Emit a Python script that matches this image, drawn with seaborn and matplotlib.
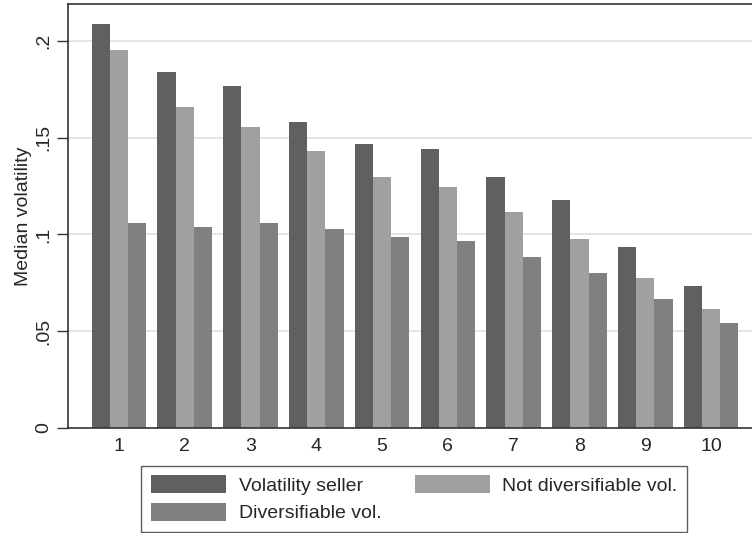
import matplotlib
matplotlib.use("Agg")
import matplotlib.pyplot as plt
import seaborn as sns
import pandas as pd
from matplotlib.patches import Patch

categories = ["1", "2", "3", "4", "5", "6", "7", "8", "9", "10"]
volatility_seller = [0.2088, 0.1839, 0.1768, 0.1582, 0.1469, 0.1443, 0.1296, 0.1176, 0.0933, 0.0733]
not_diversifiable = [0.1952, 0.1656, 0.1553, 0.1432, 0.1296, 0.1245, 0.1116, 0.0976, 0.0775, 0.0616]
diversifiable = [0.1061, 0.1037, 0.1061, 0.1028, 0.0988, 0.0964, 0.0882, 0.0801, 0.0668, 0.0544]
series_names = ["Volatility seller", "Not diversifiable vol.", "Diversifiable vol."]
y_ticks = [0, 0.05, 0.1, 0.15, 0.2]
y_ticklabels = ["0", ".05", ".1", ".15", ".2"]

colors = ["#606060", "#a0a0a0", "#808080"]

rows = []
for name, vals in zip(series_names, [volatility_seller, not_diversifiable, diversifiable]):
    for c, v in zip(categories, vals):
        rows.append({"cat": c, "series": name, "value": v})
df = pd.DataFrame(rows)

sns.set_style("white")
plt.rcParams["font.family"] = ["Liberation Sans", "DejaVu Sans"]

fig = plt.figure(figsize=(7.52, 5.33), dpi=100)
ax = fig.add_axes([68 / 752, 105 / 533, 694 / 752, 424 / 533])

sns.barplot(data=df, x="cat", y="value", hue="series", order=categories,
            hue_order=series_names, palette=colors, width=0.83, ax=ax,
            errorbar=None, saturation=1, linewidth=0, legend=False)

FS = 14
ax.set_xlim(-0.775, 9.775)
ax.set_ylim(0, 0.219)
ax.set_yticks(y_ticks)
ax.set_yticklabels(y_ticklabels, rotation=90, va="center", fontsize=FS)
ax.set_xlabel("")
ax.set_ylabel("Median volatility", fontsize=FS, labelpad=3)
ax.tick_params(axis="x", length=0, pad=7, labelsize=FS)
ax.tick_params(axis="y", length=8, width=1, color="#333333", pad=3, left=True)
for y in y_ticks[1:]:
    ax.axhline(y, color="#e0e0e0", linewidth=1.2, zorder=0)
ax.set_axisbelow(True)
for s in ["top", "left", "bottom", "right"]:
    ax.spines[s].set_color("#333333")
    ax.spines[s].set_linewidth(1.2)
    ax.spines[s].set_visible(True)

handles = [Patch(facecolor=c, edgecolor="none", label=n) for c, n in zip(colors, series_names)]
order = [0, 2, 1]
leg = fig.legend(handles=[handles[i] for i in order], loc="center", bbox_to_anchor=(0.551, 0.064),
                 ncol=2, frameon=True, fancybox=False, fontsize=FS,
                 handlelength=3.86, handleheight=1.03, handletextpad=0.66,
                 columnspacing=1.7, labelspacing=0.4, borderpad=0.5)
leg.get_frame().set_edgecolor("#333333")
leg.get_frame().set_linewidth(1.0)

fig.savefig("out.png", dpi=100)
